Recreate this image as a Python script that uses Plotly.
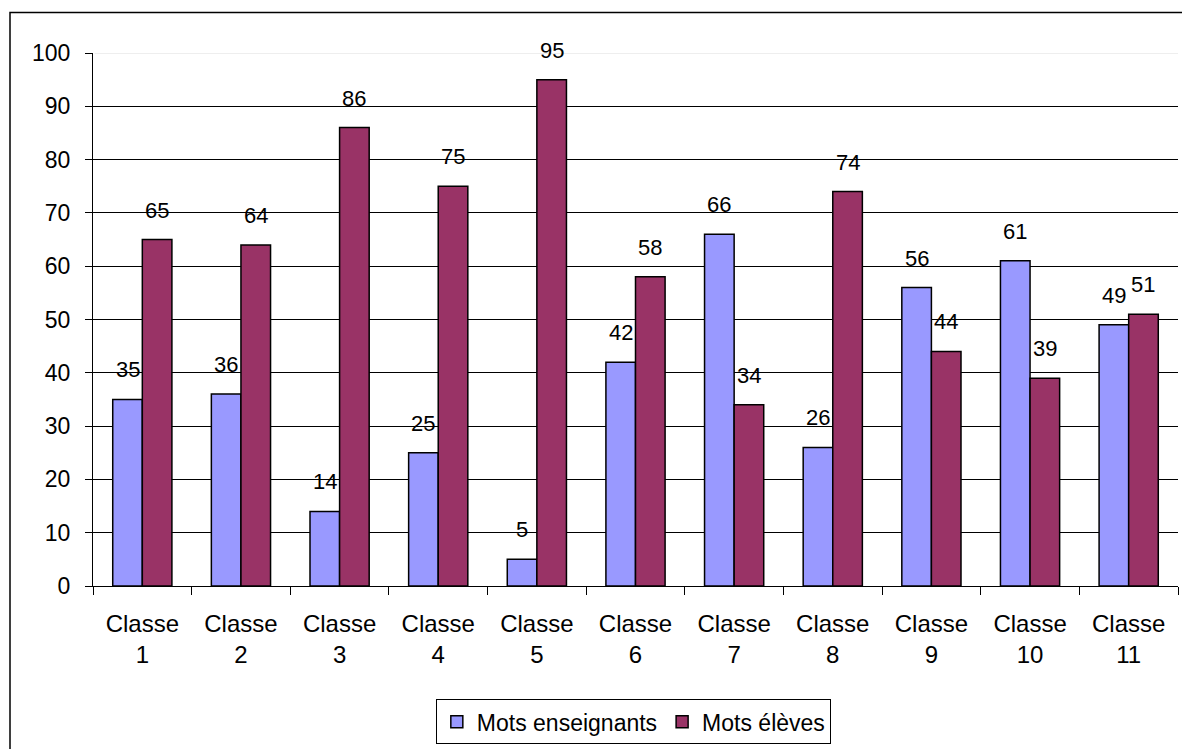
import plotly.graph_objects as go

categories = ["Classe 1", "Classe 2", "Classe 3", "Classe 4", "Classe 5", "Classe 6",
              "Classe 7", "Classe 8", "Classe 9", "Classe 10", "Classe 11"]
tick_labels = ["Classe<br>1", "Classe<br>2", "Classe<br>3", "Classe<br>4", "Classe<br>5",
               "Classe<br>6", "Classe<br>7", "Classe<br>8", "Classe<br>9", "Classe<br>10",
               "Classe<br>11"]
mots_enseignants = [35, 36, 14, 25, 5, 42, 66, 26, 56, 61, 49]
mots_eleves = [65, 64, 86, 75, 95, 58, 34, 74, 44, 39, 51]
y_ticks = [0, 10, 20, 30, 40, 50, 60, 70, 80, 90, 100]

FONT = "Liberation Sans, Arial, sans-serif"
W, H = 1182, 749
ML, MR, MT, MB = 93, 4, 53, 158

fig = go.Figure()
fig.add_trace(go.Bar(name="Mots enseignants", x=categories, y=mots_enseignants,
                     marker=dict(color="#9999FF", line=dict(color="black", width=1.5))))
fig.add_trace(go.Bar(name="Mots élèves", x=categories, y=mots_eleves,
                     marker=dict(color="#993366", line=dict(color="black", width=1.5))))

annotations = []
for i, c in enumerate(categories):
    for off, v in ((-0.15, mots_enseignants[i]), (0.15, mots_eleves[i])):
        annotations.append(dict(x=i + off, y=v, xref="x", yref="y", text=str(v),
                                showarrow=False, yanchor="bottom", yshift=15,
                                font=dict(family=FONT, size=22, color="black")))

pw = W - ML - MR
ph = H - MT - MB
frame_x0 = (10 - ML) / pw
frame_y1 = (H - MB - 12) / ph

fig.update_layout(
    width=W, height=H,
    margin=dict(l=ML, r=MR, t=MT, b=MB),
    paper_bgcolor="white", plot_bgcolor="white",
    barmode="group", bargap=0.4, bargroupgap=0,
    font=dict(family=FONT, size=22, color="black"),
    showlegend=True,
    legend=dict(orientation="h", x=0.498, xanchor="center", y=-0.255, yanchor="middle",
                bordercolor="black", borderwidth=1, bgcolor="white",
                font=dict(family=FONT, size=23, color="black"),
                itemwidth=30, traceorder="normal"),
    xaxis=dict(type="category", tickmode="array", tickvals=categories, ticktext=tick_labels,
               tickson="boundaries", ticks="outside", ticklen=8, tickcolor="black",
               showline=True, linecolor="black", linewidth=1, showgrid=False,
               ticklabelstandoff=16,
               tickfont=dict(family=FONT, size=24, color="black")),
    yaxis=dict(range=[0, 100], tickmode="array", tickvals=y_ticks, ticks="outside",
               ticklen=7, tickcolor="black", showline=True, linecolor="black", linewidth=1,
               showgrid=True, gridcolor="black", gridwidth=1, zeroline=False,
               ticklabelstandoff=10,
               tickfont=dict(family=FONT, size=23, color="black")),
    annotations=annotations,
    shapes=[
        dict(type="line", xref="paper", yref="y", x0=0.0015, x1=1, y0=100, y1=100,
             line=dict(color="#E8E8E8", width=1.5), layer="above"),
        dict(type="rect", xref="paper", yref="paper", x0=frame_x0, x1=1.1,
             y0=-0.6, y1=frame_y1, line=dict(color="black", width=1.5), layer="below"),
    ],
)

fig.write_html("out.html", config={"displayModeBar": False},
               post_script="document.body.style.margin='0';document.body.style.overflow='hidden';")
